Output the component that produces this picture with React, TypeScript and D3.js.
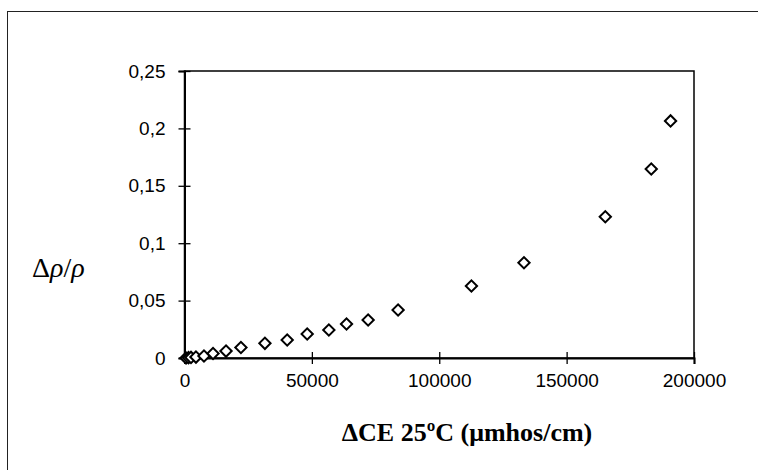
import React, { useEffect, useRef } from 'react';
import * as d3 from 'd3';

/* ── data ── */
const ceValues = [600, 1570, 2550, 4500, 7650, 11200, 16300, 22150, 31570, 40310, 48160, 56670, 63600, 72080, 83840, 112630, 133260, 165180, 183220, 190800];
const rhoValues = [0, 0.0003, 0.0005, 0.0008, 0.0017, 0.0039, 0.006, 0.0091, 0.0128, 0.0157, 0.0209, 0.0244, 0.0296, 0.0331, 0.0418, 0.0627, 0.083, 0.123, 0.1646, 0.2065];
const xTicks = [0, 50000, 100000, 150000, 200000];
const yTicks = [0, 0.05, 0.1, 0.15, 0.2, 0.25];

const W = 758, H = 470;
const M = { l: 184.5, r: 694, t: 71, b: 358 };
const sans = '"Liberation Sans", Arial, sans-serif';
const serif = '"Liberation Serif", "Times New Roman", serif';

export default function App() {
  const svgRef = useRef<SVGSVGElement>(null);

  useEffect(() => {
    const svg = d3.select(svgRef.current);
    svg.selectAll('*').remove();

    const x = d3.scaleLinear().domain([0, 200000]).range([M.l, M.r]);
    const y = d3.scaleLinear().domain([0, 0.25]).range([M.b, M.t]);

    /* outer chart frame */
    svg.append('rect')
      .attr('x', 7.5).attr('y', 11.5)
      .attr('width', W).attr('height', H)
      .attr('fill', '#fff').attr('stroke', '#222').attr('stroke-width', 1);

    /* plot area box */
    svg.append('rect')
      .attr('x', M.l).attr('y', M.t)
      .attr('width', M.r - M.l).attr('height', M.b - M.t)
      .attr('fill', 'none').attr('stroke', '#000').attr('stroke-width', 1.5);

    const fmt = (d: number) => String(d).replace('.', ',');

    /* y axis */
    svg.append('g')
      .attr('transform', `translate(${M.l},0)`)
      .call(d3.axisLeft(y).tickValues(yTicks).tickSize(6).tickPadding(13).tickFormat(d => fmt(+d)))
      .call(g => g.select('.domain').attr('stroke-width', 2))
      .call(g => g.selectAll('.tick line').attr('x1', 6).attr('stroke-width', 1.3))
      .call(g => g.selectAll('text').attr('font-family', sans).attr('font-size', 19).attr('fill', '#000'));

    /* x axis */
    svg.append('g')
      .attr('transform', `translate(0,${M.b})`)
      .call(d3.axisBottom(x).tickValues(xTicks).tickSize(6).tickPadding(10).tickFormat(d => String(d)))
      .call(g => g.select('.domain').attr('stroke-width', 2))
      .call(g => g.selectAll('.tick line').attr('y1', -6).attr('stroke-width', 1.3))
      .call(g => g.selectAll('text').attr('font-family', sans).attr('font-size', 19).attr('fill', '#000'));

    /* axis titles */
    const yt = svg.append('text')
      .attr('x', 32).attr('y', 277)
      .attr('font-family', serif).attr('font-size', 28).attr('fill', '#000');
    yt.append('tspan').text('Δ');
    yt.append('tspan').attr('font-style', 'italic').text('ρ');
    yt.append('tspan').text('/');
    yt.append('tspan').attr('font-style', 'italic').text('ρ');

    svg.append('text')
      .attr('x', 467).attr('y', 441)
      .attr('text-anchor', 'middle')
      .attr('font-family', serif).attr('font-size', 26).attr('font-weight', 'bold')
      .attr('fill', '#000')
      .text('ΔCE 25ºC (μmhos/cm)');

    /* markers: open diamonds */
    const sym = d3.symbol().type(d3.symbolSquare).size(64);
    svg.append('g')
      .selectAll('path')
      .data(ceValues.map((c, i) => [c, rhoValues[i]]))
      .join('path')
      .attr('d', sym)
      .attr('transform', d => `translate(${x(d[0])},${y(d[1])}) rotate(45)`)
      .attr('fill', '#fff')
      .attr('stroke', '#000')
      .attr('stroke-width', 2);
  }, []);

  return (
    <div style={{ position: 'fixed', left: 0, top: 0, width: W, height: H, background: '#fff' }}>
      <svg ref={svgRef} width={W} height={H} style={{ display: 'block' }} />
    </div>
  );
}
